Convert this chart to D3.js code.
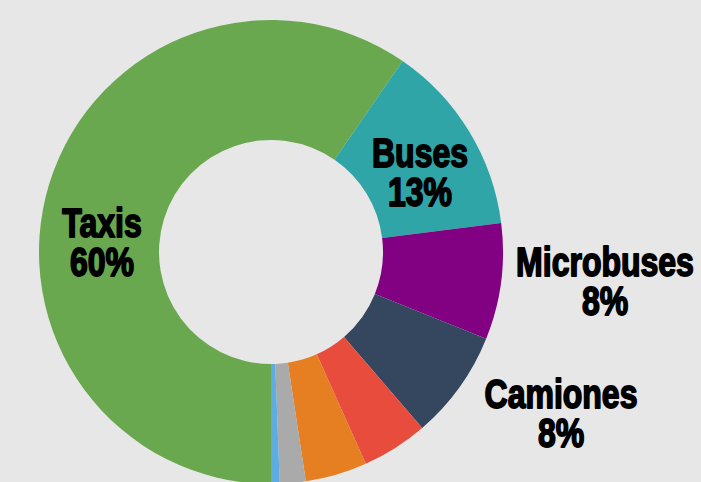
<!DOCTYPE html>
<html>
<head>
<meta charset="utf-8">
<script src="https://cdn.jsdelivr.net/npm/d3@7"></script>
<style>
  html, body { margin: 0; padding: 0; background: #e7e7e7; }
  svg { display: block; }
</style>
</head>
<body>
<div id="chart"></div>
<script>
// data (share of vehicles, %)
var categories = ["Taxis", "Buses", "Microbuses", "Camiones", "Otro 1", "Otro 2", "Otro 3", "Otro 4"];
var values     = [59.6, 13.4, 8.1, 7.6, 4.6, 4.3, 1.8, 0.6];
var colors     = ["#6aa84f", "#2fa5a7", "#820082", "#34475f", "#e74c3c", "#e67e22", "#aaaaaa", "#5dade2"];
var labelled   = ["Taxis", "Buses", "Microbuses", "Camiones"];

// where each label block sits (centre x, first baseline y)
var labelPos = {
  "Taxis":      [102, 237],
  "Buses":      [420, 167],
  "Microbuses": [605, 276],
  "Camiones":   [561, 408]
};

var width = 701, height = 482;
var cx = 271, cy = 252, rOuter = 232, rInner = 112;
var lineGap = 39;
var fontPx = 34, sy = 40 / 34, sx = 0.8 * sy;

var svg = d3.select("#chart").append("svg")
    .attr("width", width)
    .attr("height", height);

svg.append("rect")
    .attr("width", width)
    .attr("height", height)
    .attr("fill", "#e7e7e7");

var table = categories.map(function(c, i) { return {name: c, value: values[i], color: colors[i]}; });

// first slice (Taxis) starts at 6 o'clock, going clockwise
var pie = d3.pie()
    .sort(null)
    .value(function(d) { return d.value; })
    .startAngle(Math.PI)
    .endAngle(3 * Math.PI);

var arc = d3.arc()
    .innerRadius(rInner)
    .outerRadius(rOuter);

var g = svg.append("g").attr("transform", "translate(" + cx + "," + cy + ")");

g.selectAll("path")
    .data(pie(table))
    .enter()
    .append("path")
    .attr("d", arc)
    .attr("fill", function(d) { return d.data.color; });

//labels: condensed heavy look -> squeeze a bold sans horizontally, stretch a bit vertically
var lbl = svg.selectAll("g.lbl")
    .data(table.filter(function(d) { return labelled.indexOf(d.name) >= 0; }))
    .enter()
    .append("g")
    .attr("class", "lbl")
    .attr("transform", function(d) {
        return "translate(" + labelPos[d.name][0] + "," + labelPos[d.name][1] + ") scale(" + sx + "," + sy + ")";
    });

function addLine(sel, dy, fn) {
    sel.append("text")
        .attr("x", 0)
        .attr("y", dy)
        .attr("text-anchor", "middle")
        .style("font-family", "'Liberation Sans', Arial, sans-serif")
        .style("font-weight", "bold")
        .style("font-size", fontPx + "px")
        .style("fill", "#000")
        .style("stroke", "#000")
        .style("stroke-width", "1.5")
        .style("stroke-linejoin", "round")
        .text(fn);
}

addLine(lbl, 0, function(d) { return d.name; });
addLine(lbl, lineGap / sy, function(d) { return Math.round(d.value) + "%"; });
</script>
</body>
</html>
